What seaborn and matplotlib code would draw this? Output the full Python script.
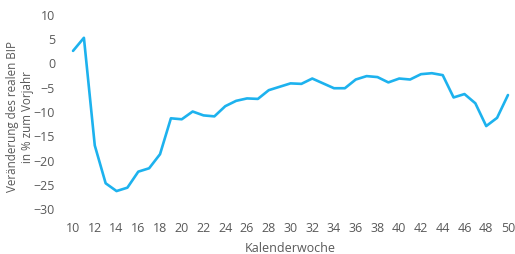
import pandas as pd
import numpy as np
import matplotlib.pyplot as plt
import seaborn as sns

weeks = list(range(10, 51))
bip_change = [2.6, 5.3, -16.9, -24.7, -26.3, -25.6, -22.3, -21.6, -18.7, -11.3,
              -11.5, -9.9, -10.7, -10.9, -8.8, -7.7, -7.2, -7.3, -5.5, -4.8,
              -4.1, -4.2, -3.1, -4.1, -5.1, -5.1, -3.3, -2.6, -2.8, -3.9,
              -3.1, -3.3, -2.2, -2.0, -2.4, -7.0, -6.3, -8.2, -12.9, -11.2,
              -6.5]
x_ticks = list(range(10, 51, 2))
y_ticks = [-30, -25, -20, -15, -10, -5, 0, 5, 10]

df = pd.DataFrame({'Kalenderwoche': weeks, 'BIP': bip_change})

sns.set_style('white')
plt.rcParams['font.family'] = ['Open Sans', 'DejaVu Sans']
grey = '#595959'

fig = plt.figure(figsize=(5.15, 2.54), dpi=100)
ax = fig.add_axes([67.6 / 515, 45 / 254, (513.4 - 67.6) / 515, 194 / 254])
sns.lineplot(data=df, x='Kalenderwoche', y='BIP', ax=ax, color='#1DB2EE', linewidth=1.9)

ax.set_xlim(9.5, 50.5)
ax.set_ylim(-30, 10)
ax.set_xticks(x_ticks)
ax.set_yticks(y_ticks)
ax.tick_params(axis='both', length=0, labelsize=9, labelcolor=grey)
ax.tick_params(axis='y', pad=9)
ax.tick_params(axis='x', pad=9)
for s in ax.spines.values():
    s.set_visible(False)
ax.set_xlabel('Kalenderwoche', fontsize=9, color=grey, labelpad=4)
ax.set_ylabel('Veränderung des realen BIP\nin % zum Vorjahr', fontsize=8.4, color=grey,
              labelpad=6, linespacing=1.25)
ax.yaxis.set_label_coords(-33.5 / 445.8, 0.475)
ax.xaxis.set_label_coords((290 - 67.6) / 445.8, -0.17)

plt.savefig('out.png', dpi=100)
